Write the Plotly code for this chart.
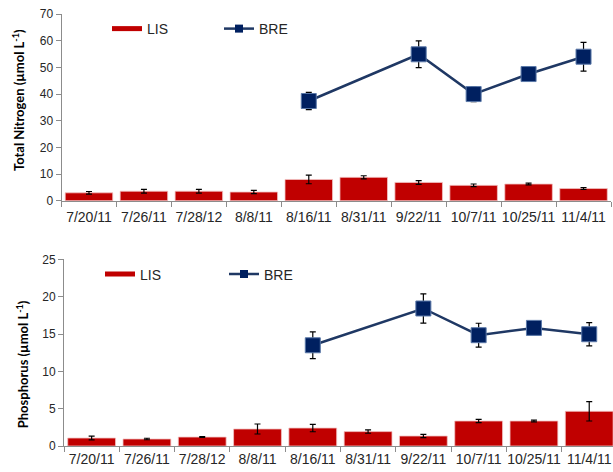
import plotly.graph_objects as go

# Sampling dates (shared category axis for both panels)
dates = ["7/20/11", "7/26/11", "7/28/12", "8/8/11", "8/16/11",
         "8/31/11", "9/22/11", "10/7/11", "10/25/11", "11/4/11"]

# Total nitrogen (umol/L)
tn_lis = [3.0, 3.6, 3.6, 3.3, 8.0, 8.8, 6.9, 5.8, 6.3, 4.6]
tn_lis_err = [0.5, 0.7, 0.7, 0.6, 1.6, 0.6, 0.7, 0.5, 0.3, 0.35]
tn_bre = [None, None, None, None, 37.4, None, 54.9, 40.0, 47.5, 54.0]
tn_bre_err = [None, None, None, None, 3.2, None, 5.0, 2.8, 1.5, 5.4]

# Phosphorus (umol/L)
p_lis = [1.07, 0.94, 1.2, 2.28, 2.41, 1.93, 1.34, 3.35, 3.35, 4.65]
p_lis_err = [0.25, 0.1, 0.05, 0.67, 0.5, 0.22, 0.22, 0.22, 0.12, 1.3]
p_bre = [None, None, None, None, 13.5, None, 18.43, 14.85, 15.83, 14.98]
p_bre_err = [None, None, None, None, 1.8, None, 1.95, 1.6, 0.8, 1.55]

W, H = 613, 472
RED = "#C00000"
NAVY = "#002060"
LINE_NAVY = "#1F3864"
AXIS_GREY = "#8c8c8c"
TXT = "#262626"
FONT = "Liberation Sans, Arial, sans-serif"

fig = go.Figure()


def add_panel(lis, lis_err, bre, bre_err, xa, ya, leg):
    fig.add_trace(go.Bar(
        x=dates, y=lis, xaxis=xa, yaxis=ya, showlegend=False,
        marker=dict(color=RED, line=dict(color="#f2c4c4", width=0.8)),
        error_y=dict(type="data", array=lis_err, color="black",
                     thickness=1.2, width=3),
    ))
    fig.add_trace(go.Scatter(
        x=dates, y=bre, xaxis=xa, yaxis=ya, mode="lines+markers",
        name="BRE", connectgaps=True, showlegend=False,
        line=dict(color=LINE_NAVY, width=2.5),
        marker=dict(symbol="square", size=15, color=NAVY,
                    line=dict(color="#5a78a8", width=1)),
        error_y=dict(type="data", array=bre_err, color="black",
                     thickness=1.2, width=3),
    ))
    # legend keys (smaller swatches than the plotted marks)
    fig.add_trace(go.Scatter(
        x=[None], y=[None], xaxis=xa, yaxis=ya, mode="lines", name="LIS",
        line=dict(color=RED, width=5), legend=leg,
    ))
    fig.add_trace(go.Scatter(
        x=[None], y=[None], xaxis=xa, yaxis=ya, mode="lines+markers",
        name="BRE", legend=leg, line=dict(color=LINE_NAVY, width=2.5),
        marker=dict(symbol="square", size=8, color=NAVY),
    ))


add_panel(tn_lis, tn_lis_err, tn_bre, tn_bre_err, "x", "y", "legend")
add_panel(p_lis, p_lis_err, p_bre, p_bre_err, "x2", "y2", "legend2")

x_common = dict(
    type="category", showline=True, linecolor=AXIS_GREY, linewidth=1,
    ticks="outside", tickson="boundaries", ticklen=5, tickcolor=AXIS_GREY,
    tickfont=dict(family=FONT, size=14, color=TXT), showgrid=False,
    zeroline=False, tickangle=0, automargin=False,
)
y_common = dict(
    showline=True, linecolor=AXIS_GREY, linewidth=1, ticks="outside",
    ticklen=5, tickcolor=AXIS_GREY, showgrid=False, zeroline=False,
    tickfont=dict(family=FONT, size=12, color=TXT), automargin=False,
)

top_px, bot_px = 14, 445.7
ph = bot_px - top_px


def frac(py):
    return (bot_px - py) / ph


legend_common = dict(
    orientation="h", xanchor="left", yanchor="middle", bgcolor="rgba(0,0,0,0)",
    font=dict(family=FONT, size=14, color=TXT), entrywidthmode="pixels",
    traceorder="normal",
)

fig.update_layout(
    width=W, height=H,
    margin=dict(l=0, r=0, t=top_px, b=H - bot_px),
    paper_bgcolor="white", plot_bgcolor="white",
    bargap=0.135,
    xaxis=dict(x_common, domain=[61.5 / W, 611 / W], anchor="y",
               range=[-0.5, 9.5], ticklabelstandoff=3),
    yaxis=dict(y_common, domain=[frac(200.7), 1], anchor="x",
               range=[0, 70], dtick=10),
    xaxis2=dict(x_common, domain=[64 / W, 1], anchor="y2",
                range=[-0.5, 9.43]),
    yaxis2=dict(y_common, domain=[0, frac(259.3)], anchor="x2",
                range=[0, 25], dtick=5),
    legend=dict(legend_common, x=107 / W, y=frac(29), entrywidth=67),
    legend2=dict(legend_common, x=100 / W, y=frac(274.3), entrywidth=79),
    annotations=[
        dict(text="Total Nitrogen (µmol L<sup>-1</sup>)", textangle=-90,
             xref="paper", yref="paper", x=18 / W, y=frac(100),
             xanchor="center", yanchor="middle", showarrow=False,
             font=dict(family="Lato", size=13, color="black", weight="bold")),
        dict(text="Phosphorus (µmol L<sup>-1</sup>)", textangle=-90,
             xref="paper", yref="paper", x=22 / W, y=frac(364),
             xanchor="center", yanchor="middle", showarrow=False,
             font=dict(family="Lato", size=13, color="black", weight="bold")),
    ],
)

fig.write_html("out.html")
